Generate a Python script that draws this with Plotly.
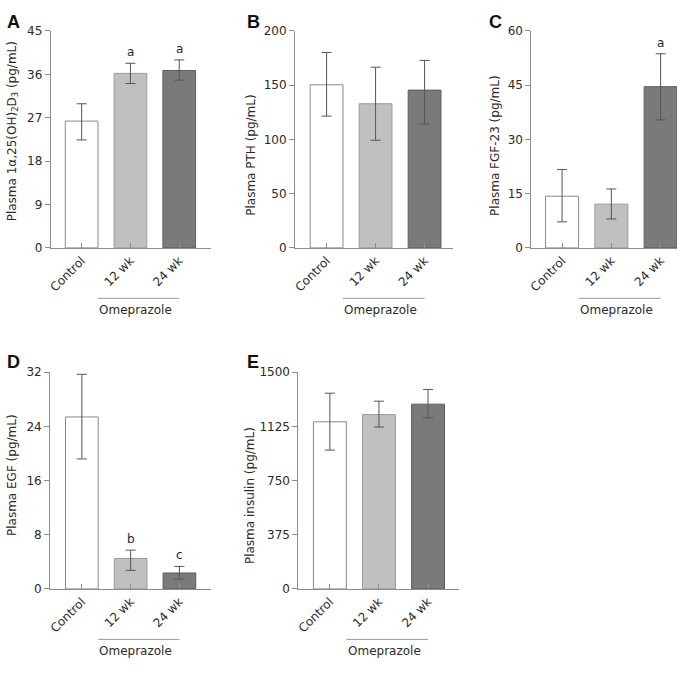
import plotly.graph_objects as go

W, H = 692, 674

categories = ["Control", "12 wk", "24 wk"]

a_mean = [26.3, 36.2, 36.8]
a_upper = [29.9, 38.3, 39.0]
a_lower = [22.4, 34.1, 34.8]
a_sig = ["", "a", "a"]
a_ticks = [0, 9, 18, 27, 36, 45]

b_mean = [150.4, 132.9, 145.5]
b_upper = [180.2, 166.6, 172.9]
b_lower = [121.5, 99.2, 114.3]
b_sig = ["", "", ""]
b_ticks = [0, 50, 100, 150, 200]

c_mean = [14.3, 12.1, 44.6]
c_upper = [21.7, 16.3, 53.7]
c_lower = [7.2, 8.0, 35.4]
c_sig = ["", "", "a"]
c_ticks = [0, 15, 30, 45, 60]

d_mean = [25.4, 4.5, 2.36]
d_upper = [31.7, 5.73, 3.33]
d_lower = [19.2, 2.75, 1.45]
d_sig = ["", "b", "c"]
d_ticks = [0, 8, 16, 24, 32]

e_mean = [1157, 1207, 1279]
e_upper = [1355, 1300, 1381]
e_lower = [961, 1121, 1184]
e_sig = ["", "", ""]
e_ticks = [0, 375, 750, 1125, 1500]

group_label = "Omeprazole"

titles = [
    "Plasma 1α,25(OH)<sub>2</sub>D<sub>3</sub> (pg/mL)",
    "Plasma PTH (pg/mL)",
    "Plasma FGF-23 (pg/mL)",
    "Plasma EGF (pg/mL)",
    "Plasma insulin (pg/mL)",
]
letters = ["A", "B", "C", "D", "E"]

fill_colors = ["#ffffff", "#c0c0c0", "#7a7a7a"]
line_colors = ["#8a8a8a", "#9a9a9a", "#5e5e5e"]
AXIS = "#8c8c8c"
TXT = "#2a2a2a"
FONT = "DejaVu Sans"

# layout in pixels: (x_axis_start, x_axis_end, first_center, spacing, y_top, y_bottom)
panels = [
    dict(mean=a_mean, up=a_upper, lo=a_lower, sig=a_sig, ticks=a_ticks,
         x0=48, x1=209, c0=79, sp=49, yt=24.5, yb=246, tx=10, ty=127, lx=2, ly=3),
    dict(mean=b_mean, up=b_upper, lo=b_lower, sig=b_sig, ticks=b_ticks,
         x0=293.3, x1=452, c0=325, sp=49.2, yt=24.5, yb=246, tx=249, ty=151, lx=243, ly=3),
    dict(mean=c_mean, up=c_upper, lo=c_lower, sig=c_sig, ticks=c_ticks,
         x0=530.7, x1=677, c0=561.5, sp=49.5, yt=24.5, yb=246, tx=494, ty=141, lx=486, ly=3),
    dict(mean=d_mean, up=d_upper, lo=d_lower, sig=d_sig, ticks=d_ticks,
         x0=47.3, x1=209, c0=79.2, sp=49, yt=373, yb=594.3, tx=9, ty=478, lx=2, ly=350),
    dict(mean=e_mean, up=e_upper, lo=e_lower, sig=e_sig, ticks=e_ticks,
         x0=296.7, x1=458, c0=328.3, sp=49.3, yt=373, yb=594.3, tx=247.5, ty=499, lx=243, ly=350),
]

fig = go.Figure()
annotations = []
shapes = []
layout = {}

for i, p in enumerate(panels):
    n = "" if i == 0 else str(i + 1)
    xa, ya = "x" + n, "y" + n
    plus = [u - m for u, m in zip(p["up"], p["mean"])]
    minus = [m - l for m, l in zip(p["mean"], p["lo"])]
    fig.add_trace(go.Bar(
        x=categories, y=p["mean"], xaxis=xa, yaxis=ya, width=0.67,
        marker=dict(color=fill_colors, line=dict(color=line_colors, width=1)),
        error_y=dict(type="data", array=plus, arrayminus=minus, symmetric=False,
                     color="#555555", thickness=1, width=5),
        showlegend=False, hoverinfo="y",
    ))
    left = -(p["c0"] - p["x0"]) / p["sp"]
    right = 2 + (p["x1"] - (p["c0"] + 2 * p["sp"])) / p["sp"]
    layout["xaxis" + n] = dict(
        domain=[p["x0"] / W, p["x1"] / W], anchor=ya,
        range=[left, right], type="category",
        showline=True, linecolor=AXIS, linewidth=1, mirror=False,
        ticks="inside", ticklen=5, tickcolor=AXIS, tickangle=-45,
        tickfont=dict(family=FONT, size=12, color=TXT),
        showgrid=False, zeroline=False, fixedrange=True,
    )
    layout["yaxis" + n] = dict(
        domain=[1 - p["yb"] / H, 1 - p["yt"] / H], anchor=xa,
        range=[0, p["ticks"][-1]], tickvals=p["ticks"],
        showline=True, linecolor=AXIS, linewidth=1,
        ticks="outside", ticklen=5, tickcolor=AXIS,
        tickfont=dict(family=FONT, size=12, color=TXT),
        showgrid=False, zeroline=False, fixedrange=True,
    )
    annotations.append(dict(
        text=titles[i], xref="paper", yref="paper",
        x=p["tx"] / W, y=1 - p["ty"] / H, xanchor="center", yanchor="middle",
        textangle=-90, showarrow=False,
        font=dict(family=FONT, size=12, color=TXT),
    ))
    annotations.append(dict(
        text="<b>" + letters[i] + "</b>", xref="paper", yref="paper",
        x=p["lx"] / W, y=1 - p["ly"] / H, xanchor="left", yanchor="top",
        showarrow=False, font=dict(family="Liberation Sans", size=18, color="#111111"),
    ))
    for c, s, u in zip(categories, p["sig"], p["up"]):
        if s:
            annotations.append(dict(
                text=s, xref=xa, yref=ya, x=c, y=u, yanchor="bottom",
                yshift=2, showarrow=False,
                font=dict(family=FONT, size=12, color=TXT),
            ))
    hgt = p["yb"] - p["yt"]
    line_y = -(51.5 / hgt)
    text_y = -(63 / hgt)
    shapes.append(dict(
        type="line", xref=xa, yref=ya + " domain",
        x0=0.335, x1=2.0, y0=line_y, y1=line_y,
        line=dict(color="#999999", width=1),
    ))
    annotations.append(dict(
        text=group_label, xref=xa, yref=ya + " domain",
        x=0.32, y=text_y, xanchor="left", yanchor="middle",
        showarrow=False, font=dict(family=FONT, size=12, color=TXT),
    ))

fig.update_layout(
    width=W, height=H, autosize=False,
    margin=dict(l=0, r=0, t=0, b=0),
    paper_bgcolor="white", plot_bgcolor="white",
    annotations=annotations, shapes=shapes,
    **layout,
)

fig.write_html(
    "out.html",
    config={"displayModeBar": False},
    post_script="document.body.style.margin='0px';document.body.style.padding='0px';",
)
